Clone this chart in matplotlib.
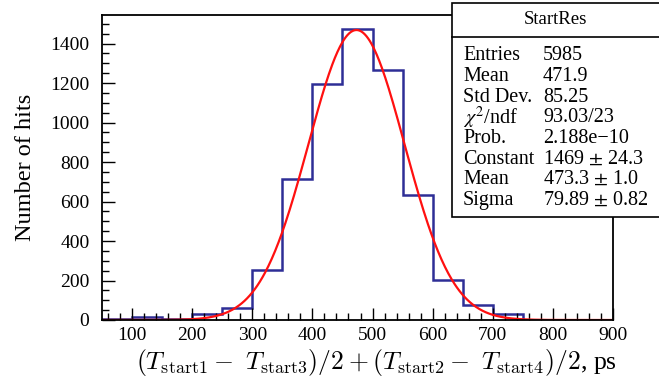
import matplotlib
matplotlib.use("Agg")
import matplotlib.pyplot as plt
from matplotlib.patches import Rectangle
from matplotlib.lines import Line2D
from matplotlib.ticker import MultipleLocator
import numpy as np

plt.rcParams['font.family'] = ['Liberation Serif', 'DejaVu Serif']

# histogram data (50 ps bins, 50..900)
bin_edges = [50, 100, 150, 200, 250, 300, 350, 400, 450, 500,
             550, 600, 650, 700, 750, 800, 850, 900]
counts = [6, 14, 7, 28, 60, 255, 714, 1195, 1472, 1265,
          633, 204, 77, 29, 2, 0, 0]

# gaussian fit parameters
fit_const = 1469.0
fit_mean = 473.3
fit_sigma = 79.89

stat_names = ["Entries", "Mean", "Std Dev.", r"$\chi^2$/ndf", "Prob.",
              "Constant", "Mean", "Sigma"]
stat_values = ["5985", "471.9", "85.25", "93.03/23", "2.188e\u221210",
               r"1469 $\pm$ 24.3", r"473.3 $\pm$ 1.0", r"79.89 $\pm$ 0.82"]

W, H = 659, 390
fig = plt.figure(figsize=(W / 100, H / 100), dpi=100)
ax = fig.add_axes([102 / W, 1 - 320 / H, (613 - 102) / W, (320 - 15) / H])

ax.stairs(counts, bin_edges, color="#2e2e96", lw=1.8, baseline=0)

xf = np.linspace(bin_edges[0], bin_edges[-1], 600)
yf = fit_const * np.exp(-0.5 * ((xf - fit_mean) / fit_sigma) ** 2)
ax.plot(xf, yf, color="#ff1010", lw=1.6)

ax.set_xlim(50, 900)
ax.set_ylim(0, 1545)
ax.xaxis.set_major_locator(MultipleLocator(100))
ax.xaxis.set_minor_locator(MultipleLocator(20))
ax.yaxis.set_major_locator(MultipleLocator(200))
ax.yaxis.set_minor_locator(MultipleLocator(50))
ax.tick_params(which="both", direction="in", top=False, right=False,
               labelsize=14, width=1.0, colors="black")
ax.tick_params(which="major", length=9, pad=5)
ax.tick_params(which="minor", length=5)
ax.tick_params(axis="y", pad=9)
for s in ax.spines.values():
    s.set_linewidth(1.3)

ax.set_ylabel("Number of hits", fontsize=17.5, labelpad=10)
fig.text(376 / W, 1 - 362 / H,
         r"$(T_{\rm start1} -\ T_{\rm start3})/2 + (T_{\rm start2} -\ T_{\rm start4})/2$, ps",
         ha="center", va="center", fontsize=18.5, math_fontfamily="cm")

# stats box
bx0, by0, by1 = 452 / W, 1 - 217 / H, 1 - 3 / H
fig.add_artist(Rectangle((bx0, by0), 1.2 - bx0, by1 - by0, transform=fig.transFigure,
                         facecolor="white", edgecolor="black", lw=1.2, clip_on=False))
fig.add_artist(Line2D([bx0, 1.0], [1 - 37 / H] * 2, transform=fig.transFigure,
                      color="black", lw=1.2))
fig.text((452 + 659) / 2 / W, 1 - 20 / H, "StartRes", ha="center", va="center",
         fontsize=13.5)
for i, (n, v) in enumerate(zip(stat_names, stat_values)):
    y = 1 - (56 + i * 20.6) / H
    fig.text(463 / W, y, n, ha="left", va="center", fontsize=14.5,
             math_fontfamily="stix")
    fig.text(543 / W, y, v, ha="left", va="center", fontsize=14.5,
             math_fontfamily="stix")

fig.savefig("out.png", dpi=100)
